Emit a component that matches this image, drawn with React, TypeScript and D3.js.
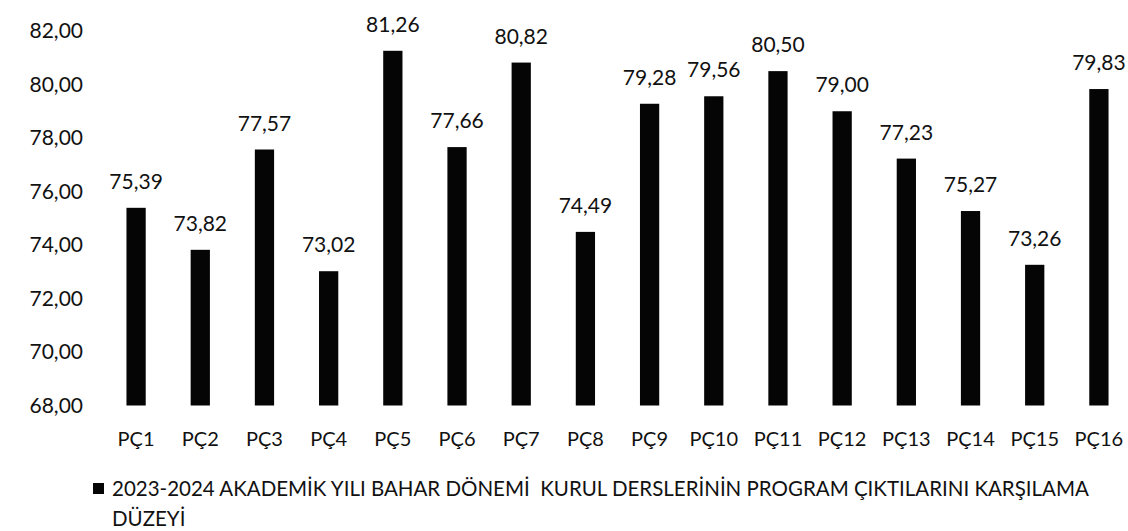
import * as d3 from "d3";
import React from "react";

const categories = ["PÇ1", "PÇ2", "PÇ3", "PÇ4", "PÇ5", "PÇ6", "PÇ7", "PÇ8", "PÇ9", "PÇ10", "PÇ11", "PÇ12", "PÇ13", "PÇ14", "PÇ15", "PÇ16"];
const values = [75.39, 73.82, 77.57, 73.02, 81.26, 77.66, 80.82, 74.49, 79.28, 79.56, 80.5, 79.0, 77.23, 75.27, 73.26, 79.83];
const yTicks = [68, 70, 72, 74, 76, 78, 80, 82];
const legendLines = [
  "2023-2024 AKADEMİK YILI BAHAR DÖNEMİ  KURUL DERSLERİNİN PROGRAM ÇIKTILARINI KARŞILAMA",
  "DÜZEYİ",
];

const width = 1128;
const height = 531;
const font = "Lato, sans-serif";

export default function App() {
  const margin = { top: 31, left: 104, right: -3, bottom: 125.5 };
  const fmt = (v: number) => v.toFixed(2).replace(".", ",");

  const x = d3
    .scaleBand<string>()
    .domain(categories)
    .range([margin.left, width - margin.right])
    .paddingInner(0.7)
    .paddingOuter(0.35);

  const y = d3
    .scaleLinear()
    .domain([68, 82])
    .range([height - margin.bottom, margin.top]);

  return (
    <div style={{ position: "absolute", left: 0, top: 0 }}>
      <svg width={width} height={height} style={{ display: "block", background: "#fff" }}>
        {/* y axis labels */}
        {yTicks.map((t) => (
          <text
            key={t}
            x={83}
            y={y(t)}
            dy="0.35em"
            textAnchor="end"
            fontFamily={font}
            fontSize={21}
            fill="#111"
          >
            {fmt(t)}
          </text>
        ))}

        {/* bars */}
        {categories.map((c, i) => (
          <rect
            key={c}
            x={x(c)}
            y={y(values[i])}
            width={x.bandwidth()}
            height={y(68) - y(values[i])}
            fill="#050505"
          />
        ))}

        {/* value labels */}
        {categories.map((c, i) => (
          <text
            key={c + "v"}
            x={(x(c) ?? 0) + x.bandwidth() / 2}
            y={y(values[i]) - 19}
            textAnchor="middle"
            fontFamily={font}
            fontSize={21}
            fill="#111"
          >
            {fmt(values[i])}
          </text>
        ))}

        {/* category labels */}
        {categories.map((c) => (
          <text
            key={c + "c"}
            x={(x(c) ?? 0) + x.bandwidth() / 2}
            y={y(68) + 33}
            dy="0.35em"
            textAnchor="middle"
            fontFamily={font}
            fontSize={20}
            fill="#111"
          >
            {c}
          </text>
        ))}

        {/* legend */}
        <rect x={93} y={483} width={11} height={11} fill="#050505" />
        {legendLines.map((l, i) => (
          <text
            key={i}
            x={112}
            y={489 + i * 30}
            dy="0.35em"
            fontFamily={font}
            fontSize={20.5}
            fill="#111"
            style={{ whiteSpace: "pre" }}
          >
            {l}
          </text>
        ))}
      </svg>
    </div>
  );
}
